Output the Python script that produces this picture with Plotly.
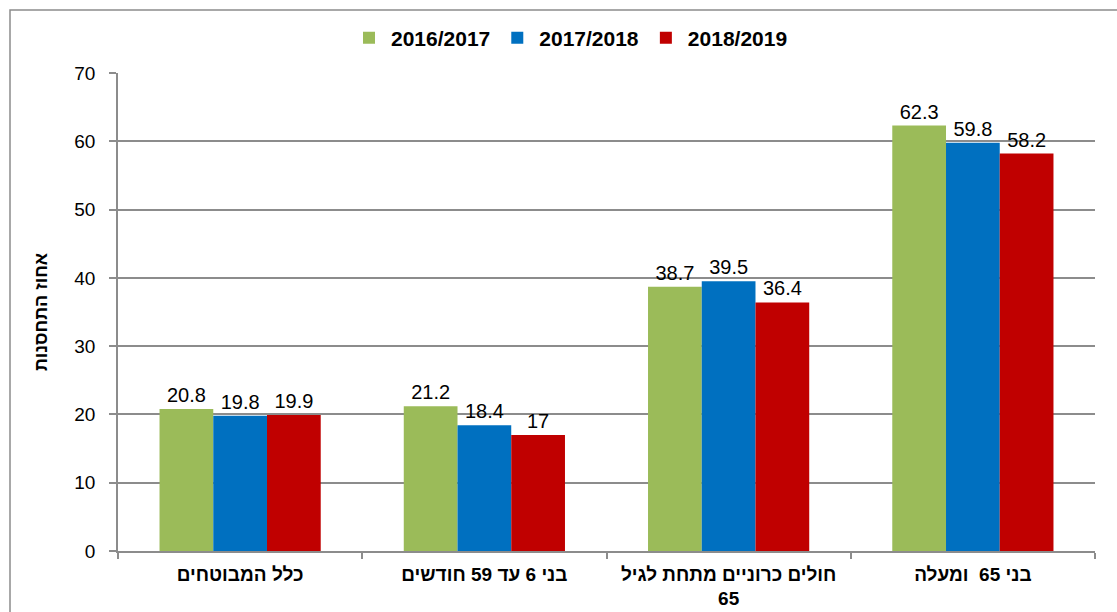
import plotly.graph_objects as go

categories = ["כלל המבוטחים", "בני 6 עד 59 חודשים", "חולים כרוניים מתחת לגיל<br>65", "בני 65  ומעלה"]
series_names = ["2016/2017", "2017/2018", "2018/2019"]
values_2016 = [20.8, 21.2, 38.7, 62.3]
values_2017 = [19.8, 18.4, 39.5, 59.8]
values_2018 = [19.9, 17, 36.4, 58.2]
colors = ["#9BBB59", "#0070C0", "#C00000"]
y_ticks = [0, 10, 20, 30, 40, 50, 60, 70]

FONT = "Liberation Sans, Arial"

fig = go.Figure()
for name, vals, col in zip(series_names, [values_2016, values_2017, values_2018], colors):
    fig.add_trace(go.Bar(
        x=categories, y=vals, name=f"<b>{name}</b>", marker_color=col, marker_line_width=0,
        text=[f"{v:g}" for v in vals], textposition="outside", cliponaxis=False,
        textfont=dict(size=20, color="black", family=FONT),
    ))

L, R, T, B = 118, 22, 73, 61
W, H = 1117, 612
pw, ph = W - L - R, H - T - B

fig.update_layout(
    width=W, height=H,
    margin=dict(l=L, r=R, t=T, b=B, pad=0, autoexpand=False),
    paper_bgcolor="white", plot_bgcolor="white",
    barmode="group", bargap=0.34, bargroupgap=0,
    font=dict(family=FONT, color="black"),
    legend=dict(orientation="h", x=(570 - L) / pw, xanchor="center", y=1 + (T - 38) / ph, yanchor="middle",
                font=dict(size=21, family=FONT), traceorder="normal",
                itemwidth=34),
    xaxis=dict(showline=True, linecolor="#8c8c8c", linewidth=1.5, ticks="outside", tickson="boundaries",
               ticklen=6, tickcolor="#8c8c8c", tickwidth=1.5, showgrid=False, automargin=False,
               ticktext=[f"<b>{c}</b>" for c in categories], tickvals=categories,
               ticklabelstandoff=5,
               tickfont=dict(size=19, family=FONT)),
    yaxis=dict(range=[0, 70], tickvals=y_ticks, showline=True, linecolor="#8c8c8c", linewidth=1.5,
               ticks="outside", ticklen=7, tickcolor="#8c8c8c", tickwidth=1.5,
               showgrid=True, gridcolor="#8c8c8c", gridwidth=1.5, zeroline=False,
               ticklabelstandoff=10, automargin=False,
               tickfont=dict(size=19, family=FONT),
               title=dict(text="<b>אחוז התחסנות</b>", font=dict(size=18), standoff=22)),
)

# outer chart border
fig.add_shape(type="rect", xref="paper", yref="paper", layer="below",
              x0=(10 - L) / pw, x1=(W + 20 - L) / pw,
              y0=-(H + 20 - (T + ph)) / ph, y1=(T + ph - 10) / ph,
              line=dict(color="#8c8c8c", width=1.5), fillcolor="rgba(0,0,0,0)")

fig.write_html("out.html", config={"displayModeBar": False},
               post_script="document.body.style.margin='0';document.body.style.overflow='hidden';")
